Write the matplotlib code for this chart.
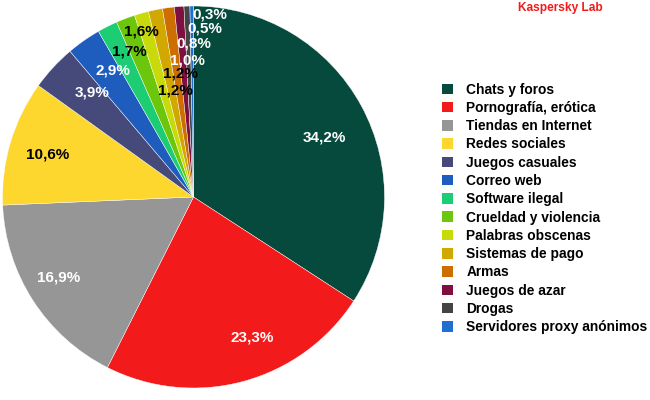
import matplotlib
matplotlib.use("Agg")
import matplotlib.pyplot as plt
from matplotlib.patches import Patch

plt.rcParams['font.family'] = ['Liberation Sans', 'DejaVu Sans']

##########################################
# data

categories = ["Chats y foros", "Pornografía, erótica", "Tiendas en Internet",
              "Redes sociales", "Juegos casuales", "Correo web", "Software ilegal",
              "Crueldad y violencia", "Palabras obscenas", "Sistemas de pago",
              "Armas", "Juegos de azar", "Drogas", "Servidores proxy anónimos"]
shares = [34.2, 23.3, 16.9, 10.6, 3.9, 2.9, 1.7, 1.6, 1.2, 1.2, 1.0, 0.8, 0.5, 0.3]
colours = ["#054a3c", "#f21a1a", "#969696", "#fdd62e", "#464a7a", "#1e5dbe",
           "#1ccd74", "#6cc60c", "#c8da0a", "#d0a800", "#cc6e00", "#7e1040",
           "#444444", "#1e6fd0"]

# label placement (data coords, pie radius = 1) and text colour
label_xy = [(0.686, 0.309), (0.309, -0.733), (-0.707, -0.424), (-0.764, 0.225),
            (-0.529, 0.545), (-0.424, 0.660), (-0.335, 0.764), (-0.272, 0.864),
            (-0.094, 0.555), (-0.068, 0.649), (-0.031, 0.717), (0.0, 0.806),
            (0.058, 0.880), (0.084, 0.958)]
label_col = ["white", "white", "white", "black", "white", "white", "black",
             "black", "black", "black", "white", "white", "white", "white"]

##########################################

fig = plt.figure(figsize=(6.5, 4), dpi=100)
ax = fig.add_axes([2.5/650, 12/400, 382/650, 382/400])

wedges, _ = ax.pie(shares, colors=colours, startangle=90, counterclock=False,
                   wedgeprops=dict(edgecolor="white", linewidth=0.3))
ax.set_xlim(-1, 1)
ax.set_ylim(-1, 1)
ax.set_aspect("equal")
ax.axis("off")

for v, (x, y), c in zip(shares, label_xy, label_col):
    ax.text(x, y, ("%.1f%%" % v).replace(".", ","), ha="center", va="center",
            fontsize=11, fontweight="bold", color=c)

handles = [Patch(facecolor=c, edgecolor="none") for c in colours]
fig.legend(handles, categories, loc="upper left", bbox_to_anchor=(0.672, 0.807),
           frameon=False, prop=dict(weight="bold", size=9.9),
           handlelength=0.8, handleheight=0.8, handletextpad=0.95,
           labelspacing=0.31, borderaxespad=0)

fig.text(560/650, 1 - 8/400, "Kaspersky Lab", color="#f21a1a", fontsize=8.6,
         fontweight="bold", ha="center", va="center")

fig.savefig("out.png", dpi=100)
